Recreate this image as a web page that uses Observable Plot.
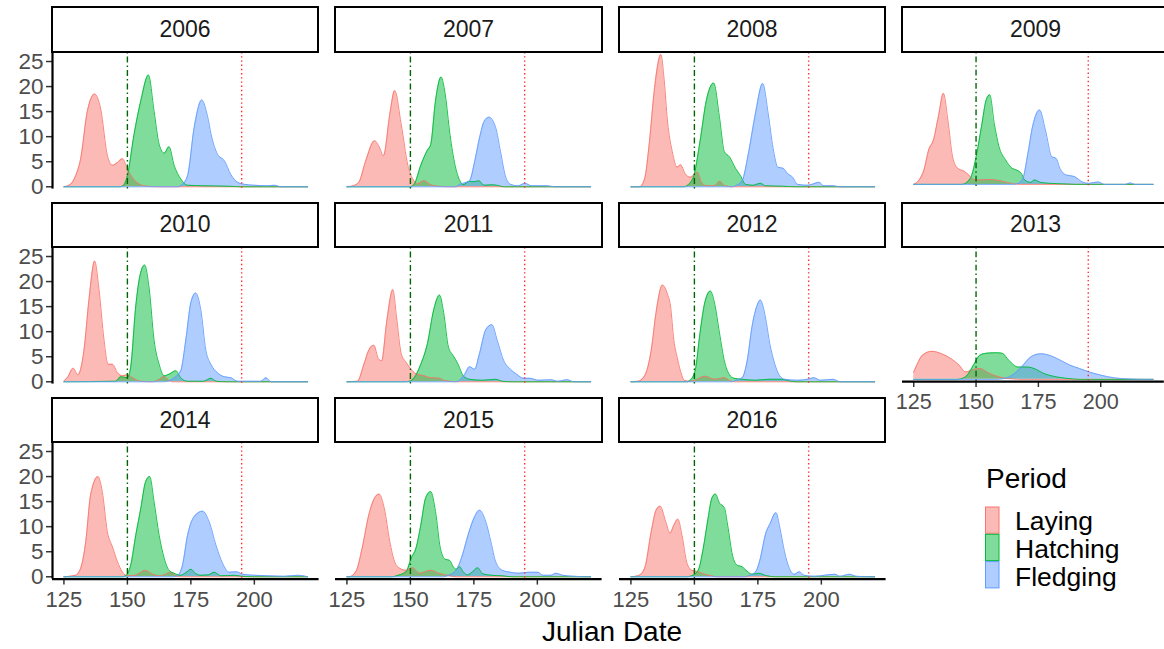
<!DOCTYPE html>
<html><head><meta charset="utf-8">
<script src="https://cdn.jsdelivr.net/npm/d3@7"></script>
<script src="https://cdn.jsdelivr.net/npm/@observablehq/plot@0.6"></script>
<style>
body{margin:0;background:#fff;overflow:hidden;font-family:"Liberation Sans",Arial,sans-serif;}
#root{position:relative;width:1164px;height:649px;overflow:hidden;background:#fff;}
.strip{position:absolute;box-sizing:border-box;border:2px solid #000;background:#fff;display:flex;align-items:center;justify-content:center;font-size:23px;color:#1a1a1a;}
.panel{position:absolute;}
</style></head><body><div id="root"></div>
<script>
const years = [2006,2007,2008,2009,2010,2011,2012,2013,2014,2015,2016];
const periods = ["Laying","Hatching","Fledging"];
const periodColors = ["#F8766D","#00BA38","#619CFF"];
const xTicks = [125,150,175,200];
const yTicks = [0,5,10,15,20,25];
const hatchLine = 150, fledgeLine = 195;
const xDomain = [120.5,225.5];
const yDomain = [-0.46,26.8];

// density curves: [Julian day, density]
const laying2006 = [[125,0],[127.6,0.5],[129.6,2.2],[131.6,5.6],[134.2,15],[137.1,18.5],[139.5,15.5],[142.1,6.3],[144.1,4.3],[146,4.8],[148,5.6],[150,3.6],[152.5,1.5],[155.3,0.4],[158,0.1],[162,0],[221,0]];
const hatching2006 = [[125,0],[147,0],[148.5,0.3],[150,2.2],[152.6,10.4],[155.3,17.2],[158.3,22.3],[160.5,15.1],[162.5,8.5],[164.5,6.7],[166.4,8],[168.4,4.3],[171,1.6],[173.7,0.3],[180,0.2],[190,0.1],[195,0],[221,0]];
const fledging2006 = [[125,0],[170,0],[171.5,0.4],[173.7,2.2],[176.3,11.8],[179.3,17.3],[181.6,14],[183,10.4],[185.5,6.5],[188.2,5.2],[190.8,2.4],[193.4,0.9],[196,0.5],[200,0.3],[205.3,0.2],[207.9,0.3],[210.5,0],[221,0]];

const laying2007 = [[125,0],[127.5,0.2],[129.7,0.9],[132.3,5],[135.9,9.2],[137.7,8],[139.4,6.2],[141.9,14.5],[143.8,19.2],[146.4,12.4],[149,4.3],[150.9,1.6],[152.8,0.6],[155.4,1.2],[158,0.4],[161,0.1],[165,0],[221,0]];
const hatching2007 = [[125,0],[150,0],[151.5,0.5],[154.1,4.3],[156.7,7.3],[158,8.4],[159.9,17.2],[162.1,21.9],[163.7,18.5],[165.6,10.4],[167.6,4.3],[169.5,1.2],[170.8,0.4],[173.3,1.1],[175,1],[177,1.2],[179,0.3],[182,0.4],[184,0.3],[187,0],[221,0]];
const fledging2007 = [[125,0],[168,0],[169.5,0.5],[171.5,0.8],[173.3,1.2],[175.3,5],[177.2,9.7],[179.1,13.1],[181,13.9],[183.6,11.8],[185.5,7],[187.4,2.2],[189.4,0.5],[192.6,0.2],[195.1,0.7],[197.7,0.2],[204,0.2],[206.7,0],[221,0]];

const laying2008 = [[125,0],[128.5,0],[130.4,1.6],[132.3,9],[134.2,19.2],[136.8,26.4],[138.1,21.3],[139.4,13.1],[141.3,7],[143.2,3.9],[144.5,4.4],[146.4,2.6],[148.3,1.9],[150.3,2.6],[151.3,2.9],[152.8,0.9],[154.7,0.2],[158,0.2],[160,1.1],[162,0.2],[165,0],[221,0]];
const hatching2008 = [[125,0],[146,0],[147,0.2],[149.6,1.9],[152.2,9],[154.7,17.2],[157.6,20.7],[159.9,13.8],[161.8,7],[163.8,6],[166.3,3.6],[168.2,2.2],[170.1,0.5],[173,0.3],[176,0.7],[178,0.2],[185,0.1],[190,0],[221,0]];
const fledging2008 = [[125,0],[165,0],[166.3,0.2],[168.8,1.2],[171.4,7],[174,14.5],[176.9,20.6],[179.1,14.5],[181,7.7],[182.9,3.9],[184.9,3.7],[186.8,2.6],[188.7,1.9],[190.6,0.5],[194.4,0.3],[197,0.6],[199,0.9],[201,0.2],[204.7,0.2],[207.3,0],[221,0]];

const laying2009 = [[125,0],[127.2,0.9],[129.1,2.9],[131,7],[132.9,9],[134.9,13.8],[136.9,18.5],[138.7,13.1],[140.6,5.6],[142.6,3.3],[145.1,2.7],[147.1,1.9],[149,1],[152,0.9],[155.4,1],[160,0.7],[165,0.1],[168,0],[221,0]];
const hatching2009 = [[125,0],[144.5,0],[147.7,1.2],[150.3,6.3],[152.2,11.8],[154.1,17.2],[155.5,18.2],[157.3,12.4],[159.2,7.7],[161.8,5],[164.4,3.3],[166.3,2.9],[168.2,2.2],[169.5,0.9],[172,0.4],[173.3,0.9],[176,0.4],[180,0.2],[185,0.1],[190,0],[221,0]];
const fledging2009 = [[125,0],[165,0],[166.9,0.2],[168.8,1.2],[170.8,6.3],[172.7,11.8],[175.5,15.1],[177.8,11.1],[180.4,5.6],[182.1,5.3],[183.6,3.3],[186.2,1.9],[189.4,1.6],[192.6,0.5],[195.1,0.2],[199,0.5],[201.5,0],[210,0],[211.8,0.3],[213.7,0],[221,0]];

const laying2010 = [[125,0.1],[126.3,0.8],[128.7,2.7],[130.5,1.4],[132.9,6.3],[134.9,16.5],[137.1,24.1],[138.8,18.5],[140.8,8.3],[142.4,3.5],[144.1,3.5],[146.1,1.8],[148,1.2],[150,1.4],[152,0.8],[155.3,0.1],[160,0],[163,0.6],[164.5,1.1],[166,0.4],[168,0],[221,0]];
const hatching2010 = [[125,0],[145.4,0.1],[147.4,1],[150,0.8],[151.3,2.9],[153.3,15.1],[155,21.3],[156.8,23.3],[158.6,18.5],[160.5,8.3],[162.5,3.5],[164.5,1.2],[166.4,1.5],[169.1,2.2],[171,0.8],[173.7,0.1],[180,0.1],[182.9,0.7],[185,0.1],[190,0],[221,0]];
const fledging2010 = [[125,0],[164,0],[165.8,0.1],[168.4,0.8],[171,2.2],[173,8.3],[175,15.8],[176.9,17.7],[178.9,14.4],[180.9,6.3],[182.9,3.5],[185.5,1.8],[188.2,1],[190.8,0.8],[193.4,0.1],[202.6,0.1],[204.6,0.8],[206.6,0],[221,0]];

const laying2011 = [[125,0],[129.1,0.1],[131.7,3.5],[133.6,6.3],[135.6,7.3],[137.4,4.6],[138.7,4.2],[140.6,11.7],[143.1,18.4],[144.5,13.1],[146.4,5.6],[148.3,3.9],[150.3,2.5],[152.2,1.6],[155.4,1.2],[158,0.8],[161.5,0.7],[163.1,0.3],[165.6,0.1],[168,0],[221,0]];
const hatching2011 = [[125,0],[148,0],[149.6,0.1],[151.5,0.8],[154.1,3.5],[156.7,7.6],[159.2,14.4],[161.5,17.3],[163.1,13.8],[165,6.9],[166.9,5.2],[168.8,3.5],[170.8,1.2],[173.3,0.5],[178.5,0.3],[183.6,0.5],[186.2,0.1],[190,0],[221,0]];
const fledging2011 = [[125,0],[167,0],[168.8,0.1],[171.4,1.5],[173.3,3],[175.3,2.5],[177.2,5.6],[179.7,10.4],[182.1,11.4],[184.2,8.3],[186.8,4.2],[189.4,2.5],[191.9,1.5],[194.5,0.7],[197.1,0.7],[200.3,0.3],[205.4,0.4],[208,0.1],[211.8,0.4],[214.4,0],[221,0]];

const laying2012 = [[125,0],[127.8,0.1],[130.4,1.2],[133,6.3],[134.9,13.8],[137.4,19.3],[139.4,17.5],[140.6,15.1],[141.9,8.3],[143.2,4.9],[144.5,2.2],[146,0.3],[148,0.1],[150.3,0.3],[154.1,1.1],[158,0.5],[161.8,0.8],[164,0.2],[166,0],[221,0]];
const hatching2012 = [[125,0],[147,0],[148.3,0.3],[150.3,2.2],[152.2,9.7],[154.1,15.8],[156.3,18.1],[157.9,15.8],[159.9,9.7],[161.8,4.2],[163.7,1.5],[165.6,0.7],[168.8,0.5],[174,0.3],[179.1,0.5],[184.2,0.5],[188.1,0.1],[190,0],[221,0]];
const fledging2012 = [[125,0],[165,0],[166.3,0.3],[168.8,0.8],[170.8,4.2],[172.7,11],[174.6,15.1],[176,16.3],[177.9,13.1],[179.7,7.6],[181.7,3.5],[183.6,1.2],[185.5,0.5],[190.6,0.3],[194.5,0.5],[197.1,0.8],[199.6,0.3],[204.7,0.5],[207.3,0],[221,0]];

const laying2013 = [[125,1.5],[125.9,2.5],[128.5,4.9],[132.3,5.7],[136.2,5.2],[140,4.2],[143.2,2.9],[145.8,1.5],[149,2],[151.5,2.2],[155.4,1.2],[159.2,0.5],[164.4,0.1],[168,0],[221,0]];
const hatching2013 = [[125,0],[142,0],[143.8,0.1],[146.4,0.8],[149,2.9],[151.5,4.9],[154.1,5.3],[157.9,5.4],[160.5,5.3],[163.1,3.9],[166.9,2.5],[170.8,2.5],[173.3,2.2],[177.2,1.2],[182.3,0.5],[188.7,0.1],[192,0],[221,0]];
const fledging2013 = [[125,0],[158,0],[160.5,0.1],[164.4,0.8],[168.2,2.5],[172.1,4.6],[176,5.2],[179.9,4.8],[183.8,3.9],[187.6,2.9],[191.5,2.2],[195.4,1.5],[200.5,0.8],[205.6,0.3],[210.8,0.1],[218.5,0],[221,0]];

const laying2014 = [[125,0],[129.6,0.3],[131.6,1.7],[133.6,7],[135.5,16.3],[138.4,20],[140.1,17],[142.1,9],[144.1,6],[146.1,3],[148,1],[150,0.2],[153,0.3],[155,0.8],[157,1.3],[160,0.5],[163,0.2],[165,0.5],[167.1,0.9],[169,0.2],[171,0],[221,0]];
const hatching2014 = [[125,0],[148,0],[149.3,0.2],[151.3,2.3],[153.3,8.3],[155.3,13.7],[157.2,19],[158.8,20],[160.5,15],[162.5,8.3],[164.5,3.7],[166.4,1.3],[168.4,0.7],[171,0.3],[173,0.8],[175,1.5],[177,0.6],[178.9,0.3],[182,0.4],[184.2,0.9],[186.8,0.2],[192.1,0.3],[195,0.1],[200,0],[221,0]];
const fledging2014 = [[125,0],[168,0],[169.7,0.2],[171.7,2.3],[173.7,8.3],[176.3,12],[179.6,13.1],[182.2,11],[184.9,6.3],[187.5,2.7],[190.1,0.9],[192.8,1],[195.4,0.5],[200,0.3],[205.3,0.2],[211.8,0.1],[217.1,0.3],[221,0]];

const laying2015 = [[125,0],[125.9,0],[128.5,1],[131,5.7],[133.6,12.3],[135.9,15.7],[137.7,16.5],[139.7,13.7],[141.9,7],[143.8,3],[145.8,1.7],[148.3,1.3],[150.9,1.8],[153.5,0.7],[158,1.3],[161.2,0.7],[165.6,0.2],[168,0],[221,0]];
const hatching2015 = [[125,0],[143,0],[144.5,0.2],[148.3,1],[150.3,3.7],[152.2,5.7],[154.1,10.3],[156,15.7],[158,17],[159.9,13],[161.8,5.7],[163.7,3.5],[165.4,3.3],[166.9,2],[168,1.5],[169.4,2],[170.8,1],[172.5,0.4],[174.5,1],[176.5,1.8],[178.5,0.6],[182,0.3],[186,0.2],[190,0],[221,0]];
const fledging2015 = [[125,0],[163,0],[164.4,0.2],[167.6,1],[170.1,3.7],[172.7,8.3],[175.3,12],[177.2,13.3],[179.7,11],[181.7,7],[183.6,3],[186.2,1.3],[189.4,0.9],[192.6,0.7],[196.4,0.9],[200.3,0.9],[202.2,0.3],[205.4,0.3],[207.3,0.7],[210,0.3],[214.4,0.1],[218.8,0],[221,0]];

const laying2016 = [[125,0],[127.8,0.2],[130.4,1.7],[133,9],[134.9,13.3],[136.5,14.1],[138.7,11],[140.4,8.7],[141.9,10.3],[143.5,11.5],[145.1,8.3],[147.1,2.7],[149,1.3],[151.5,1],[154.1,0.5],[156.7,0.2],[159,0],[221,0]];
const hatching2016 = [[125,0],[147,0],[149,0.2],[151.5,1.3],[153.5,5.7],[155.4,11.7],[156.9,15.7],[158.3,16.5],[159.9,14.7],[161.8,13.8],[163.1,10.3],[165,4.3],[166.9,2.3],[168.8,2],[170.8,1.1],[172.7,0.5],[175.3,0.7],[178.5,0.2],[182,0],[221,0]];
const fledging2016 = [[125,0],[170,0],[171.4,0.2],[174,0.9],[176,3.7],[177.9,8.3],[179.9,10.7],[182.1,12.8],[183.7,9.7],[185.5,5],[187.4,1.7],[189.4,0.5],[191.3,1],[193.2,0.3],[197.1,0.1],[205.4,0.5],[207.3,0.1],[211.2,0.5],[213.7,0.1],[218.8,0],[221,0]];

const seriesByYear = {
  2006:[laying2006,hatching2006,fledging2006], 2007:[laying2007,hatching2007,fledging2007],
  2008:[laying2008,hatching2008,fledging2008], 2009:[laying2009,hatching2009,fledging2009],
  2010:[laying2010,hatching2010,fledging2010], 2011:[laying2011,hatching2011,fledging2011],
  2012:[laying2012,hatching2012,fledging2012], 2013:[laying2013,hatching2013,fledging2013],
  2014:[laying2014,hatching2014,fledging2014], 2015:[laying2015,hatching2015,fledging2015],
  2016:[laying2016,hatching2016,fledging2016]
};

const root = document.getElementById("root");
const W = 266.6, H = 136.6, colStep = 283.5, rowStep = 195.3, left0 = 51.7, top0 = 51.7;
const font = "'Liberation Sans', Arial, sans-serif";

years.forEach((yr, i) => {
  const col = i % 4, row = Math.floor(i / 4);
  const px = left0 + col * colStep, py = top0 + row * rowStep;
  const showY = col === 0;
  const showX = row === 2 || yr === 2013;
  const rows = [];
  seriesByYear[yr].forEach((s, k) => s.forEach(([d, v]) => rows.push({period: periods[k], day: d, density: v})));
  const ml = showY ? 52 : 0, mb = showX ? 50 : 0;
  const marks = [
    Plot.areaY(rows, {x: "day", y1: 0, y2: "density", fill: "period", z: "period", fillOpacity: 0.5, curve: "monotone-x"}),
    Plot.lineY(rows, {x: "day", y: "density", stroke: "period", z: "period", strokeWidth: 0.9, curve: "monotone-x"}),
    Plot.ruleX([hatchLine], {stroke: "#006400", strokeWidth: 1.4, strokeDasharray: "1.5,3,6,3"}),
    Plot.ruleX([fledgeLine], {stroke: "#FF2A2A", strokeWidth: 1.4, strokeDasharray: "1.4,2.8"})
  ];
  if (showY) {
    marks.push(Plot.axisY(yTicks, {tickSize: 6, tickPadding: 3, fontSize: 22.5, stroke: "#333333", fill: "#4D4D4D", strokeWidth: 1.5, label: null}));
    marks.push(Plot.ruleX([xDomain[0]], {stroke: "#000", strokeWidth: 2.2}));
  }
  if (showX) {
    marks.push(Plot.axisX(xTicks, {tickSize: 6, tickPadding: 6, fontSize: 22, stroke: "#333333", fill: "#4D4D4D", strokeWidth: 1.5, label: null}));
    marks.push(Plot.ruleY([yDomain[0]], {stroke: "#000", strokeWidth: 2.2}));
  }
  const chart = Plot.plot({
    width: W + ml, height: H + mb,
    marginLeft: ml, marginRight: 0, marginTop: 0, marginBottom: mb,
    x: {domain: xDomain, ...(showX ? {} : {axis: null})},
    y: {domain: yDomain, ...(showY ? {} : {axis: null})},
    color: {domain: periods, range: periodColors},
    style: {overflow: "visible", background: "none", fontFamily: font, fontSize: "22px"},
    marks
  });
  const holder = document.createElement("div");
  holder.className = "panel";
  holder.style.left = (px - ml) + "px";
  holder.style.top = py + "px";
  holder.appendChild(chart);
  root.appendChild(holder);

  const strip = document.createElement("div");
  strip.className = "strip";
  strip.style.left = (px - 1) + "px";
  strip.style.top = (py - 45.4) + "px";
  strip.style.width = (W + 2) + "px";
  strip.style.height = "46.4px";
  strip.textContent = String(yr);
  root.appendChild(strip);
});

// legend + axis title overlay
const svg = d3.select(root).append("svg")
  .attr("width", 1164).attr("height", 649)
  .style("position", "absolute").style("left", "0px").style("top", "0px")
  .style("font-family", font);
svg.append("text").attr("x", 612).attr("y", 641).attr("text-anchor", "middle")
  .attr("font-size", 28).attr("fill", "#000").text("Julian Date");
svg.append("text").attr("x", 986).attr("y", 488).attr("font-size", 28).attr("fill", "#000").text("Period");
periods.forEach((p, k) => {
  svg.append("rect").attr("x", 985.5).attr("y", 507 + k * 27.3).attr("width", 13.5).attr("height", 26.3)
    .attr("fill", periodColors[k]).attr("fill-opacity", 0.5).attr("stroke", periodColors[k]).attr("stroke-width", 1);
  svg.append("text").attr("x", 1015).attr("y", 530.2 + k * 27.9).attr("font-size", 26.5).attr("fill", "#000").text(p);
});
</script></body></html>
